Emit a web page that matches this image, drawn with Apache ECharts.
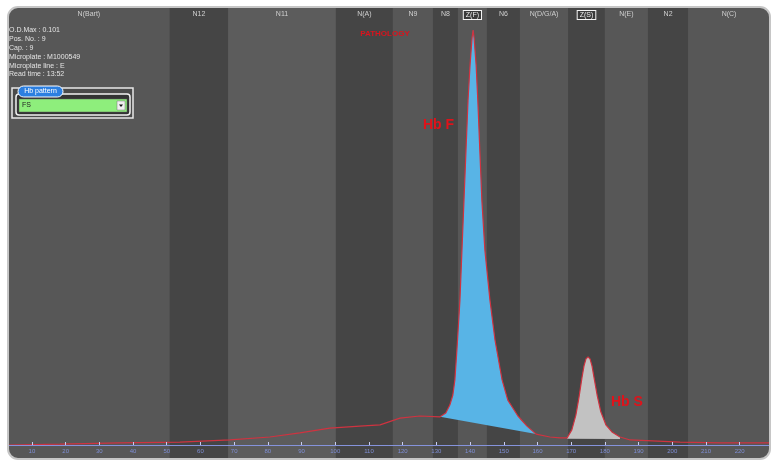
<!DOCTYPE html>
<html>
<head>
<meta charset="utf-8">
<script src="https://cdn.jsdelivr.net/npm/echarts@6/dist/echarts.min.js"></script>
<style>
html, body { margin: 0; background: #fff; }
#wrap { position: relative; width: 777px; height: 461px; }
#c2 { position: absolute; left: 0; top: 0; width: 777px; height: 461px; clip-path: inset(7px 7px 2px 8px round 10px); }
#frame { position: absolute; left: 7px; top: 6px; width: 764px; height: 454px; box-sizing: border-box;
         border: 2px solid #c6c6c6; border-radius: 11px; pointer-events: none; }
</style>
</head>
<body>
<div id="wrap">
<div id="c2"></div>
<div id="frame"></div>
</div>
<script>
// migration zones: names and edges (axis units)
var zoneNames = ['N(Bart)', 'N12', 'N11', 'N(A)', 'N9', 'N8', 'Z(F)', 'N6', 'N(D/G/A)', 'Z(S)', 'N(E)', 'N2', 'N(C)'];
var zoneEdges = [2.9, 50.9, 68.2, 100.2, 117.1, 129.0, 136.4, 145.0, 154.8, 169.1, 180.0, 192.8, 204.7, 229.0];

// electrophoregram trace
var migration = [3.0, 18.3, 36.1, 53.9, 68.8, 80.6, 89.5, 98.4, 107.3, 113.3, 119.2, 125.1, 131.1,
    132.8, 134.0, 134.9, 135.5, 136.1, 137.0, 137.6, 138.2, 138.8, 139.4, 140.0, 140.6, 140.9,
    141.2, 141.8, 142.3, 142.9, 143.5, 144.4, 145.9, 147.4, 149.5, 151.2, 154.2, 156.9, 159.6,
    163.7, 166.7,
    168.8, 170.2, 171.4, 172.3, 173.2, 173.8, 174.4, 175.0, 175.6, 176.2, 176.8, 177.7, 178.8,
    180.3, 182.1, 184.5, 187.5, 202.3, 214.2, 229.0];
var absorbance = [0.0, 0.2, 0.5, 0.7, 1.2, 1.9, 2.9, 4.0, 4.5, 4.8, 6.4, 6.9, 6.7,
    7.6, 9.5, 11.9, 15.5, 22.6, 34.5, 46.4, 58.3, 70.2, 82.1, 90.5, 96.9, 98.8,
    96.9, 90.5, 82.1, 70.2, 58.3, 46.4, 34.5, 25.0, 15.5, 10.7, 6.9, 4.5, 2.6,
    1.9, 1.7,
    1.7, 3.6, 7.1, 11.2, 16.0, 18.8, 20.5, 21.0, 20.5, 18.8, 16.0, 11.9, 7.9,
    4.8, 3.1, 1.9, 1.2, 0.7, 0.5, 0.5];

// integrated fractions: migration range and baseline at both ends
var hbFRange = [131.1, 159.6];
var hbFBase = [6.7, 2.6];
var hbSRange = [168.8, 184.5];
var hbSBase = [1.5, 1.4];

var tickValues = [10, 20, 30, 40, 50, 60, 70, 80, 90, 100, 110, 120, 130, 140, 150, 160, 170, 180, 190, 200, 210, 220];

var infoLines = ['O.D.Max : 0.101', 'Pos. No. : 9', 'Cap. : 9', 'Microplate : M1000549', 'Microplate line : E', 'Read time : 13:52'];

// outline of a fraction: trace inside the range, closed by the straight baseline
function fractionOutline(range, base) {
    var pts = [];
    for (var i = 0; i < migration.length; i++) {
        if (migration[i] >= range[0] && migration[i] <= range[1]) pts.push([migration[i], absorbance[i]]);
    }
    pts.push([range[1], base[1]]);
    pts.push([range[0], base[0]]);
    return pts;
}
var outlineF = fractionOutline(hbFRange, hbFBase);
var outlineS = fractionOutline(hbSRange, hbSBase);

var trace = migration.map(function (x, i) { return [x, absorbance[i]]; });

function fillSeries(name, pts, color) {
    return {
        name: name, type: 'custom', xAxisIndex: 1, yAxisIndex: 1, z: 3, silent: true,
        data: pts,
        renderItem: function (params, api) {
            if (params.dataIndex !== 0) return;
            return {
                type: 'polygon',
                shape: { points: pts.map(function (p) { return api.coord(p); }) },
                style: { fill: color }
            };
        }
    };
}

var zoneAreas = zoneNames.map(function (n, i) {
    var hl = n.indexOf('Z(') === 0;
    var first = {
        name: n,
        xAxis: zoneEdges[i],
        itemStyle: { color: i % 2 ? '#454545' : (i === 2 ? '#5c5c5c' : '#575757') }
    };
    if (hl) {
        first.label = {
            backgroundColor: '#3a3a3a', borderColor: '#f4f4f4', borderWidth: 1,
            padding: [1, 2, 0, 2], color: '#f0f0f0'
        };
    }
    return [first, { xAxis: zoneEdges[i + 1] }];
});

var font = 'Liberation Sans';

var ec = echarts.init(document.getElementById('c2'));

var option = {
    backgroundColor: '#4f4f4f',
    animation: false,
    grid: [
        { left: 8, right: 7, top: 7, bottom: 2 },     // zone bands
        { left: 8, right: 7, top: 25, bottom: 16 }    // trace
    ],
    xAxis: [
        { gridIndex: 0, type: 'value', min: 2.9, max: 229, show: false },
        {
            gridIndex: 1, type: 'value', min: 2.9, max: 229, z: 5,
            splitLine: { show: false },
            axisLine: { show: true, lineStyle: { color: '#8593dc', width: 1 } },
            axisTick: { show: true, inside: true, length: 3, customValues: tickValues, lineStyle: { color: '#c8cdf0' } },
            axisLabel: { show: true, customValues: tickValues, fontSize: 6, color: '#7f8fd6', margin: 3, fontFamily: font }
        }
    ],
    yAxis: [
        { gridIndex: 0, type: 'value', min: 0, max: 1, show: false },
        { gridIndex: 1, type: 'value', min: 0, max: 100, show: false }
    ],
    series: [
        {
            type: 'line', xAxisIndex: 0, yAxisIndex: 0, silent: true,
            data: [[2.9, 0]], symbol: 'none', lineStyle: { opacity: 0 },
            markArea: {
                silent: true,
                label: { show: true, position: 'insideTop', distance: 4, fontSize: 7, color: '#d0d0d0', fontFamily: font, formatter: '{b}' },
                data: zoneAreas
            }
        },
        fillSeries('Hb F', outlineF, '#58b4e6'),
        fillSeries('Hb S', outlineS, '#c2c2c2'),
        {
            name: 'trace', type: 'line', xAxisIndex: 1, yAxisIndex: 1, z: 4,
            data: trace, symbol: 'none', lineStyle: { color: '#cf3340', width: 1.2 }
        }
    ],
    graphic: [
        // info block top left
        {
            type: 'text', x: 9, y: 26, z: 100,
            style: { text: infoLines.join('\n'), fill: '#e4e4e4', font: '7px ' + font, lineHeight: 8.8 }
        },
        // Hb pattern widget
        { type: 'rect', z: 100, shape: { x: 12, y: 88, width: 121, height: 30 }, style: { fill: '#4a4a4a', stroke: '#e8e8e8', lineWidth: 1.5 } },
        { type: 'rect', z: 101, shape: { x: 16, y: 94, width: 114, height: 21, r: 3 }, style: { fill: '#333', stroke: '#f2f2f2', lineWidth: 1.5 } },
        { type: 'rect', z: 102, shape: { x: 19, y: 99, width: 108, height: 13 }, style: { fill: '#8eee7c', stroke: '#5a5a5a', lineWidth: 0.5 } },
        { type: 'text', z: 103, x: 22, y: 105.5, style: { text: 'FS', fill: '#222', font: '7px ' + font, verticalAlign: 'middle' } },
        { type: 'rect', z: 103, shape: { x: 117, y: 101, width: 8, height: 9 }, style: { fill: '#f0f0f0', stroke: '#777', lineWidth: 0.5 } },
        { type: 'polygon', z: 104, shape: { points: [[119, 104.5], [123, 104.5], [121, 107]] }, style: { fill: '#111' } },
        { type: 'rect', z: 104, shape: { x: 18, y: 86, width: 45, height: 11, r: 5.5 }, style: { fill: '#2c7fe0', stroke: '#fff', lineWidth: 1 } },
        { type: 'text', z: 105, x: 40.5, y: 91.5, style: { text: 'Hb pattern', fill: '#fff', font: '7px ' + font, align: 'center', verticalAlign: 'middle' } },
        // status + fraction names
        { type: 'text', z: 100, x: 385, y: 34, style: { text: 'PATHOLOGY', fill: '#d8141e', font: 'bold 8px ' + font, align: 'center', verticalAlign: 'middle' } },
        { type: 'text', z: 100, x: 423, y: 125, style: { text: 'Hb F', fill: '#e0121a', font: 'bold 14px ' + font, verticalAlign: 'middle' } },
        { type: 'text', z: 100, x: 611, y: 402, style: { text: 'Hb S', fill: '#e0121a', font: 'bold 14px ' + font, verticalAlign: 'middle' } }
    ]
};

ec.setOption(option);
</script>
</body>
</html>
